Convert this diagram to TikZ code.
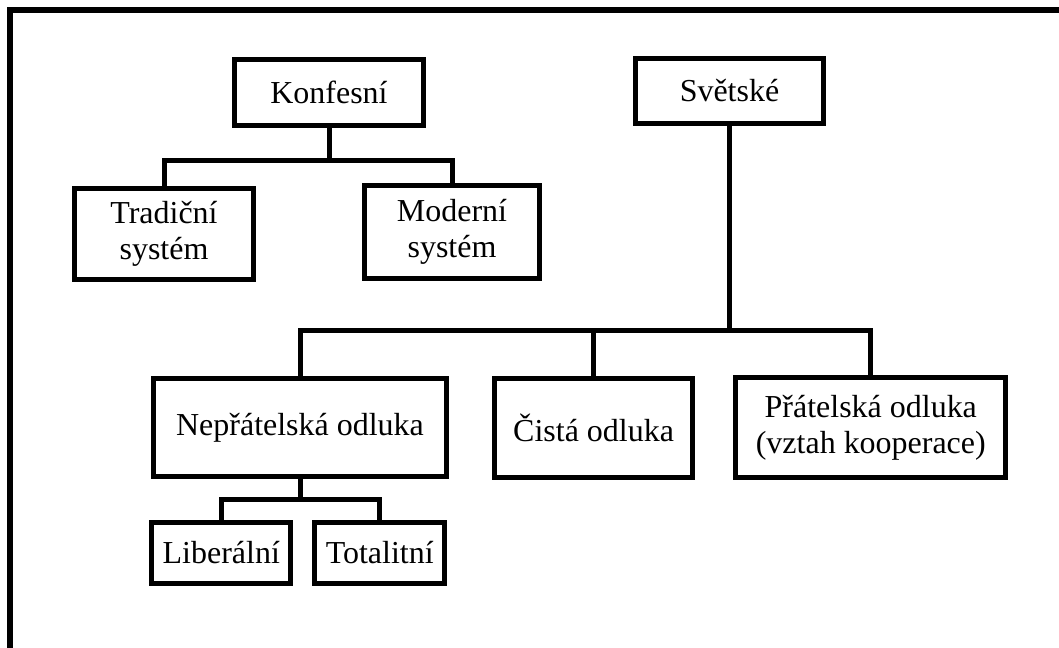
\documentclass[tikz,border=0pt]{standalone}
\usepackage{fontspec}
\setmainfont{Liberation Serif}
\begin{document}
\begin{tikzpicture}[x=0.02cm, y=-0.02cm,
    box/.style={draw, line width=0.1cm, align=center, inner sep=0pt,
      font=\fontsize{18.2}{20.3}\selectfont}]
  \useasboundingbox (0,0) rectangle (1059,648);
  \draw[line width=0.12cm] (10,670) -- (10,10.5) -- (1075,10.5);
  \draw
    (329,92.5) node[box, minimum width=3.78cm, minimum height=1.32cm] (konf){Konfesní}
    (164,234) node[box, minimum width=3.57cm, minimum height=1.82cm] (trad){Tradiční\\systém}
    (452,232) node[box, minimum width=3.5cm, minimum height=1.86cm] (mod){Moderní\\systém}
    (729.5,91) node[box, minimum width=3.78cm, minimum height=1.32cm] (svet){Světské}
    (300,427.5) node[box, minimum width=5.87cm, minimum height=1.96cm] (nep){Nepřátelská odluka}
    (593.6,427.7) node[box, minimum width=3.96cm, minimum height=1.98cm] (cist){Čistá odluka}
    (870.8,427.7) node[box, minimum width=5.4cm, minimum height=1.99cm] (prat){Přátelská odluka\\(vztah kooperace)}
    (221.3,553) node[box, minimum width=2.78cm, minimum height=1.21cm] (lib){Liberální}
    (379.7,553) node[box, minimum width=2.61cm, minimum height=1.21cm] (tot){Totalitní};
  \coordinate (kj) at (329,161);
  \coordinate (sj) at (729.5,330.5);
  \coordinate (nj) at (300,499.3);
  \begin{scope}[line width=0.1cm]
    \draw (konf) -- (kj);
    \draw (trad.north) |- (kj) -| (mod.north);
    \draw (svet) -- (sj);
    \draw (nep.north) |- (sj) -| (prat.north);
    \draw (cist.north) -- (cist.north |- sj);
    \draw (nep) -- (nj);
    \draw (lib.north) |- (nj) -| (tot.north);
  \end{scope}
\end{tikzpicture}
\end{document}
